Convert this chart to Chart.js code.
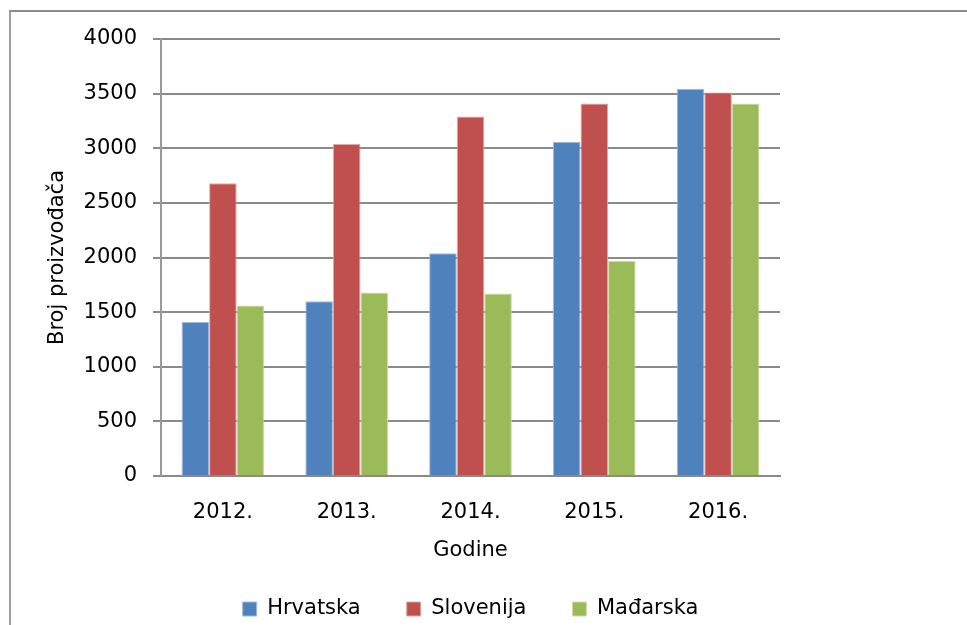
<!DOCTYPE html>
<html>
<head>
<meta charset="utf-8">
<script src="https://cdn.jsdelivr.net/npm/chart.js@4/dist/chart.umd.min.js"></script>
<style>
  html, body { margin: 0; padding: 0; background: #ffffff; }
  #wrap { position: relative; width: 967px; height: 625px; overflow: hidden; }
  #frame { position: absolute; left: 9px; top: 10px; width: 980px; height: 640px;
           border-top: 2px solid #8c8c8c; border-left: 2px solid #a0a0a0; box-sizing: border-box; }
  #c { position: absolute; left: 0; top: 0; }
</style>
</head>
<body>
<div id="wrap">
  <div id="frame"></div>
  <canvas id="c" width="967" height="625"></canvas>
</div>
<script>
const categories = ['2012.', '2013.', '2014.', '2015.', '2016.'];
const hrvatska  = [1410, 1600, 2040, 3060, 3545];
const slovenija = [2680, 3040, 3290, 3410, 3510];
const madarska  = [1560, 1680, 1670, 1970, 3410];
const seriesNames = ['Hrvatska', 'Slovenija', 'Mađarska'];
const yTitle = 'Broj proizvođača';
const xTitle = 'Godine';

const FONT = 'DejaVu Sans';
const gridGray = '#8a8a8a';

new Chart(document.getElementById('c'), {
  type: 'bar',
  data: {
    labels: categories,
    datasets: [
      { label: seriesNames[0], data: hrvatska,  backgroundColor: '#4F81BD', borderColor: '#9FBADC', borderWidth: 1 },
      { label: seriesNames[1], data: slovenija, backgroundColor: '#C0504D', borderColor: '#E0A8A6', borderWidth: 1 },
      { label: seriesNames[2], data: madarska,  backgroundColor: '#9BBB59', borderColor: '#CCDDAC', borderWidth: 1 }
    ]
  },
  options: {
    responsive: false,
    animation: false,
    devicePixelRatio: 1,
    layout: { padding: { left: 0, right: 187, top: 39, bottom: 0 } },
    datasets: { bar: { categoryPercentage: 0.668, barPercentage: 1.0 } },
    scales: {
      x: {
        grid: { display: false, drawTicks: false },
        border: { display: true, color: gridGray, width: 2 },
        ticks: { color: '#000', font: { family: FONT, size: 21 }, padding: 24 },
        title: { display: true, text: xTitle, color: '#000', font: { family: FONT, size: 21 }, padding: { top: 0, bottom: -11 } },
        afterFit: (s) => { s.height = 76.5; }
      },
      y: {
        min: 0, max: 4000,
        ticks: { stepSize: 500, color: '#000', font: { family: FONT, size: 21 }, padding: 16,
                 callback: (v) => String(v) },
        grid: { color: gridGray, lineWidth: 2, drawTicks: true, tickLength: 8 },
        border: { display: true, color: '#9a9a9a', width: 2 },
        title: { display: true, text: yTitle, color: '#000', font: { family: FONT, size: 21 }, padding: { top: 45, bottom: 0 } },
        afterFit: (s) => { s.width = 161; }
      }
    },
    plugins: {
      tooltip: { enabled: false },
      legend: {
        position: 'bottom',
        fullSize: false,
        maxHeight: 72.5,
        labels: {
          color: '#000',
          font: { family: FONT, size: 21 },
          boxWidth: 14,
          boxHeight: 14,
          padding: 46
        }
      }
    }
  }
});
</script>
</body>
</html>
